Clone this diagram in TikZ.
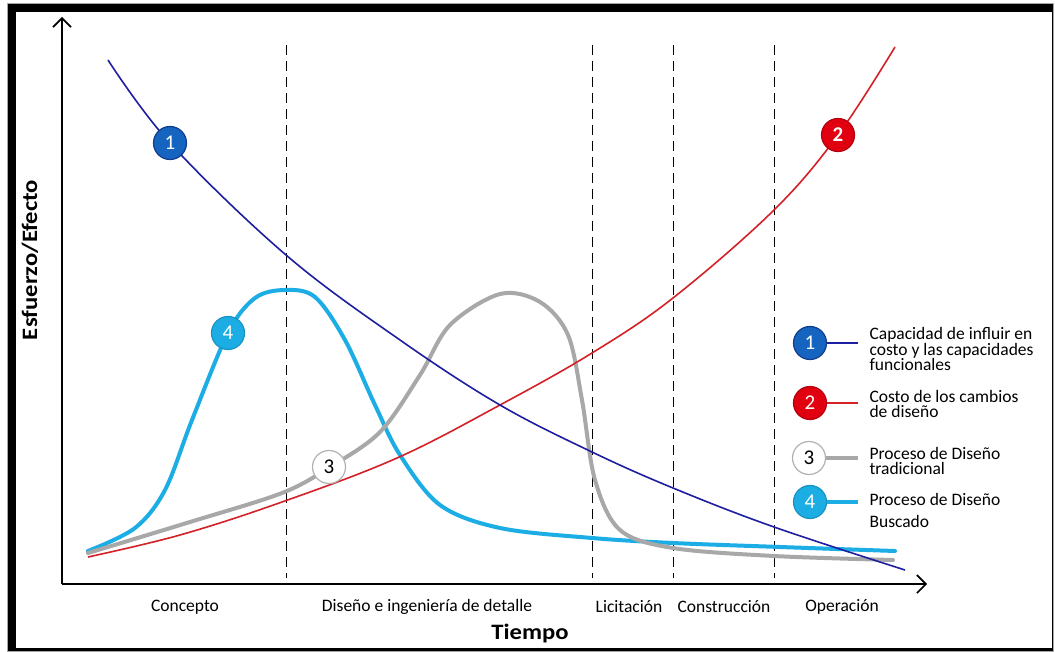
\documentclass[tikz,border=0pt]{standalone}
\usepackage{fontspec}
\setmainfont{Carlito}
\newfontfamily\widebold[FakeStretch=1.12]{Carlito}
\usetikzlibrary{arrows.meta}
\definecolor{cnavy}{HTML}{1E1EA0}
\definecolor{cblue}{HTML}{1565C0}
\definecolor{cbluedk}{HTML}{123C8C}
\definecolor{cred}{HTML}{D42027}
\definecolor{credfill}{HTML}{E0000F}
\definecolor{cgrey}{HTML}{A8A8A8}
\definecolor{ccyan}{HTML}{1CADE4}
\tikzset{
  num/.style={circle, minimum size=33pt, inner sep=0pt, line width=1.2pt, font=\fontsize{21}{21}\selectfont},
  leg/.style={anchor=west, align=left, font=\fontsize{17.5}{15.5}\selectfont},
  phase/.style={font=\fontsize{17.5}{18}\selectfont},
  divider/.style={dash pattern=on 10pt off 6pt, line width=1pt},
  axis/.style={line width=1.6pt, -{Straight Barb[length=9pt,width=18pt,line width=1.6pt]}},
}
\begin{document}
\begin{tikzpicture}[x=1pt,y=-1pt]
\useasboundingbox (0,0) rectangle (1055,652);
% frame
\fill[gray!70] (7,3) rectangle (1054,652);
\fill[black] (8,4) rectangle (1053,651);
\fill[white] (16,12) rectangle (1052,648);
% axes
\coordinate (O) at (62,584);
\coordinate (Ytop) at (62,17);
\coordinate (Xend) at (927,584);
\draw[axis] (O) -- (Ytop);
\draw[axis] (O) -- (Xend);
% dividers
\foreach \x/\n in {286/a,592/b,673/c,774/d}{
  \coordinate (t\n) at (\x,45);
  \coordinate (b\n) at (\x,578);
  \draw[divider] (t\n) -- (b\n);
}
% curve 4 cyan
\draw[ccyan, line width=4pt, line cap=round] plot[smooth, tension=0.55] coordinates {
 (88,551) (135,528) (165,490) (192,420) (228,333) (255,298) (285,290) (315,297) (345,340) (375,405) (400,455) (440,505) (500,528) (592,538) (673,543) (780,547) (895,551)};
% curve 3 grey
\draw[cgrey, line width=4pt, line cap=round] plot[smooth, tension=0.55] coordinates {
 (88,553) (190,522) (282,493) (330,467) (380,432) (420,375) (450,325) (500,294) (540,302) (568,335) (582,400) (595,480) (620,530) (673,548) (774,556) (893,560)};
% curve 2 red
\draw[cred, line width=1.6pt] plot[smooth, tension=0.6] coordinates {
 (88,557) (180,535) (282,502) (397,458) (500,405) (592,353) (673,298) (774,210) (838,135) (895,47)};
% curve 1 navy
\draw[cnavy, line width=1.6pt] plot[smooth, tension=0.6] coordinates {
 (108,60) (170,143) (286,255) (400,340) (500,405) (592,452) (673,488) (774,527) (905,570)};
% markers on curves
\node[num, fill=cblue, draw=cbluedk, text=white] (m1) at (170,143) {1};
\node[num, fill=credfill, draw=credfill!80!black, text=white, font=\fontsize{21}{21}\bfseries] (m2) at (838,135) {2};
\node[num, fill=white, draw=gray!60, text=black] (m3) at (329,467) {3};
\node[num, fill=ccyan, draw=ccyan!85!black, text=white] (m4) at (228,333) {4};
% legend
\node[num, fill=cblue, draw=cbluedk, text=white] (l1) at (810,343) {1};
\coordinate (e1) at (858,343);
\draw[cnavy, line width=1.6pt] (l1) -- (e1);
\node[leg] (t1) at (866,349) {Capacidad de influir en\\costo y las capacidades\\funcionales};
\node[num, fill=credfill, draw=credfill!80!black, text=white] (l2) at (810,403) {2};
\coordinate (e2) at (858,403);
\draw[cred, line width=1.6pt] (l2) -- (e2);
\node[leg] (t2) at (866,404) {Costo de los cambios\\de diseño};
\node[num, fill=white, draw=gray!60, text=black] (l3) at (809,458) {3};
\coordinate (e3) at (858,458);
\draw[cgrey, line width=4pt] (l3) -- (e3);
\node[leg] (t3) at (866,461) {Proceso de Diseño\\tradicional};
\node[num, fill=ccyan, draw=ccyan!85!black, text=white] (l4) at (810,502) {4};
\coordinate (e4) at (858,502);
\draw[ccyan, line width=4pt] (l4) -- (e4);
\node[leg, font=\fontsize{17.5}{22}\selectfont] (t4) at (866,510) {Proceso de Diseño\\Buscado};
% phase labels
\node[phase] (p1) at (185,607) {Concepto};
\node[phase] (p2) at (427,607) {Diseño e ingeniería de detalle};
\node[phase] (p3) at (629,607) {Licitación};
\node[phase] (p4) at (724,607) {Construcción};
\node[phase] (p5) at (842,607) {Operación};
% axis titles
\node[font=\widebold\fontsize{22}{22}\bfseries\selectfont] (xt) at (530,634) {Tiempo};
\node[font=\widebold\fontsize{22}{22}\bfseries\selectfont, rotate=90] (yt) at (30,260) {Esfuerzo/Efecto};
\end{tikzpicture}
\end{document}
